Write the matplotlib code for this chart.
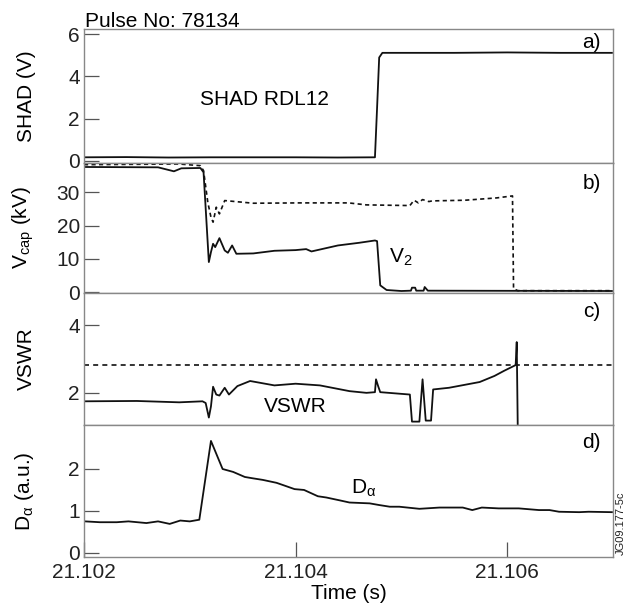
import matplotlib
matplotlib.use('Agg')
import matplotlib.pyplot as plt

plt.rcParams['font.family'] = ['Liberation Sans', 'DejaVu Sans']
plt.rcParams['mathtext.fontset'] = 'custom'
plt.rcParams['mathtext.rm'] = 'Liberation Sans'
plt.rcParams['mathtext.it'] = 'Liberation Sans'
plt.rcParams['font.size'] = 15

# panel a - SHAD RDL12
shad_t = [21.10200, 21.10240, 21.10280, 21.10320, 21.10360, 21.10400, 21.10440,
          21.10475, 21.10477, 21.10479, 21.10482, 21.10550, 21.10600, 21.10650, 21.10699]
shad_v = [0.17, 0.18, 0.16, 0.17, 0.17, 0.17, 0.16,
          0.17, 2.5, 4.9, 5.12, 5.12, 5.14, 5.12, 5.12]

# panel b - capacitor voltages
v2_t = [21.10200, 21.10270, 21.10285, 21.10292, 21.10310, 21.10313, 21.10318,
        21.10320, 21.10322, 21.10324, 21.10328, 21.10333, 21.10336, 21.10340,
        21.10344, 21.10360, 21.10380, 21.10400, 21.10410, 21.10415, 21.10440,
        21.10460, 21.10475, 21.10477, 21.10480, 21.10486, 21.10500, 21.10509,
        21.10510, 21.10513, 21.10514, 21.10521, 21.10522, 21.10525, 21.10699]
v2_v = [37.6, 37.5, 36.3, 37.2, 37.3, 36.0, 9.0,
        12.0, 14.5, 13.5, 16.2, 12.5, 11.8, 14.0,
        11.5, 11.6, 12.4, 12.6, 12.9, 12.2, 14.0,
        14.8, 15.5, 15.3, 2.0, 0.6, 0.3, 0.4,
        1.3, 1.3, 0.4, 0.4, 1.5, 0.4, 0.3]
v1_t = [21.10200, 21.10290, 21.10310, 21.10313, 21.10317, 21.10320, 21.10322,
        21.10325, 21.10328, 21.10333, 21.10360, 21.10404, 21.10450, 21.10467,
        21.10508, 21.10512, 21.10516, 21.10520, 21.10526, 21.10529, 21.10560,
        21.10590, 21.10605, 21.10606, 21.10610, 21.10699]
v1_v = [38.3, 38.5, 38.0, 36.5, 27.0, 22.5, 21.0,
        25.5, 23.5, 27.5, 26.7, 26.8, 26.8, 26.2,
        26.0, 27.6, 26.8, 27.8, 27.2, 27.4, 27.6,
        28.3, 28.9, 1.0, 0.4, 0.4]

# panel c - VSWR
vswr_t = [21.10200, 21.10250, 21.10290, 21.10312, 21.10315, 21.10318, 21.10320,
          21.10322, 21.10325, 21.10328, 21.10333, 21.10337, 21.10345, 21.10357,
          21.10380, 21.10400, 21.10423, 21.10451, 21.10467, 21.10475, 21.10476,
          21.10478, 21.10480, 21.10508, 21.10510, 21.10517, 21.10520, 21.10523,
          21.10528, 21.10530, 21.10545, 21.10574, 21.10588, 21.10597, 21.10608,
          21.10609, 21.10610]
vswr_v = [1.75, 1.76, 1.72, 1.75, 1.70, 1.27, 1.6,
          2.18, 1.95, 1.92, 2.15, 1.95, 2.2, 2.35,
          2.22, 2.27, 2.22, 2.05, 2.00, 2.02, 2.40,
          2.20, 2.02, 1.95, 1.15, 1.15, 2.40, 1.18,
          1.18, 2.10, 2.15, 2.32, 2.50, 2.65, 2.82,
          3.50, 0.9]
vswr_limit = 2.82

# panel d - D alpha
da_t = [21.10201, 21.10215, 21.10231, 21.10242, 21.10259, 21.10270, 21.10281,
        21.10291, 21.10300, 21.10309, 21.10320, 21.10331, 21.10341, 21.10352,
        21.10359, 21.10369, 21.10382, 21.10390, 21.10399, 21.10408, 21.10421,
        21.10429, 21.10442, 21.10451, 21.10470, 21.10479, 21.10489, 21.10498,
        21.10517, 21.10536, 21.10558, 21.10567, 21.10576, 21.10592, 21.10611,
        21.10630, 21.10640, 21.10649, 21.10668, 21.10677, 21.10699]
da_v = [0.75, 0.73, 0.73, 0.75, 0.71, 0.75, 0.69,
        0.77, 0.75, 0.79, 2.67, 2.0, 1.93, 1.81,
        1.78, 1.74, 1.67, 1.60, 1.52, 1.50, 1.35,
        1.32, 1.25, 1.20, 1.18, 1.14, 1.10, 1.10,
        1.05, 1.08, 1.08, 1.02, 1.08, 1.06, 1.06,
        1.02, 1.02, 0.98, 0.97, 0.98, 0.97]

x_ticks = [21.102, 21.104, 21.106]

fig = plt.figure(figsize=(6.35, 6.09), dpi=100)
gs = fig.add_gridspec(4, 1, height_ratios=[134, 130, 132, 132], hspace=0,
                      left=84 / 635, right=613 / 635, top=1 - 29 / 609, bottom=1 - 557 / 609)
axes = [fig.add_subplot(gs[i]) for i in range(4)]

lc = '#111111'
for ax in axes:
    ax.set_xlim(21.102, 21.107)
    for s in ax.spines.values():
        s.set_color('#888888')
        s.set_linewidth(1.0)
    ax.tick_params(direction='in', length=11, width=0.9, color='#555555',
                   labelcolor='#222222', pad=3)
    ax.set_xticks(x_ticks)
    ax.tick_params(axis='x', length=0, labelbottom=False)

ax = axes[0]
ax.plot(shad_t, shad_v, color=lc, lw=1.3)
ax.set_ylim(-0.1, 6.25)
ax.set_yticks([0, 2, 4, 6])
ax.set_ylabel('SHAD (V)')
ax.text(0.22, 0.43, 'SHAD RDL12', transform=ax.transAxes)
ax.text(0.96, 0.90, 'a)', transform=ax.transAxes, ha='center', va='center')

ax = axes[1]
ax.plot(v1_t, v1_v, color=lc, lw=1.2, ls=(0, (2.5, 2)))
ax.plot(v2_t, v2_v, color=lc, lw=1.3)
ax.set_ylim(-0.3, 38.8)
ax.set_yticks([0, 10, 20, 30])
ax.set_ylabel(r'$\mathregular{V_{cap}}$ (kV)')
ax.text(0.577, 0.23, r'$\mathregular{V_2}$', transform=ax.transAxes)
ax.text(0.96, 0.84, 'b)', transform=ax.transAxes, ha='center', va='center')

ax = axes[2]
ax.axhline(vswr_limit, color=lc, lw=1.2, ls=(0, (3, 2.5)))
ax.plot(vswr_t, vswr_v, color=lc, lw=1.3)
ax.set_ylim(1.05, 4.95)
ax.set_yticks([2, 4])
ax.set_ylabel('VSWR')
ax.text(0.34, 0.10, 'VSWR', transform=ax.transAxes)
ax.text(0.96, 0.86, 'c)', transform=ax.transAxes, ha='center', va='center')

ax = axes[3]
ax.plot(da_t, da_v, color=lc, lw=1.3)
ax.set_ylim(-0.1, 3.05)
ax.set_yticks([0, 1, 2])
ax.set_ylabel(r'$\mathregular{D_{α}}$ (a.u.)')
ax.text(0.505, 0.48, r'D$\mathregular{_{α}}$', transform=ax.transAxes)
ax.text(0.96, 0.87, 'd)', transform=ax.transAxes, ha='center', va='center')
ax.tick_params(axis='x', length=11, labelbottom=True, pad=4)
ax.set_xticklabels(['21.102', '21.104', '21.106'])
ax.set_xlabel('Time (s)', labelpad=2)

for ax in axes:
    ax.yaxis.set_label_coords(-0.09, 0.5)

fig.text(85 / 635, 1 - 27 / 609, 'Pulse No: 78134', ha='left', va='baseline')
fig.text(621 / 635, 1 - 523 / 609, 'JG09.177-5c', rotation=90, fontsize=8,
         ha='center', va='center', color='#222222')

fig.savefig('out.png', dpi=100)
